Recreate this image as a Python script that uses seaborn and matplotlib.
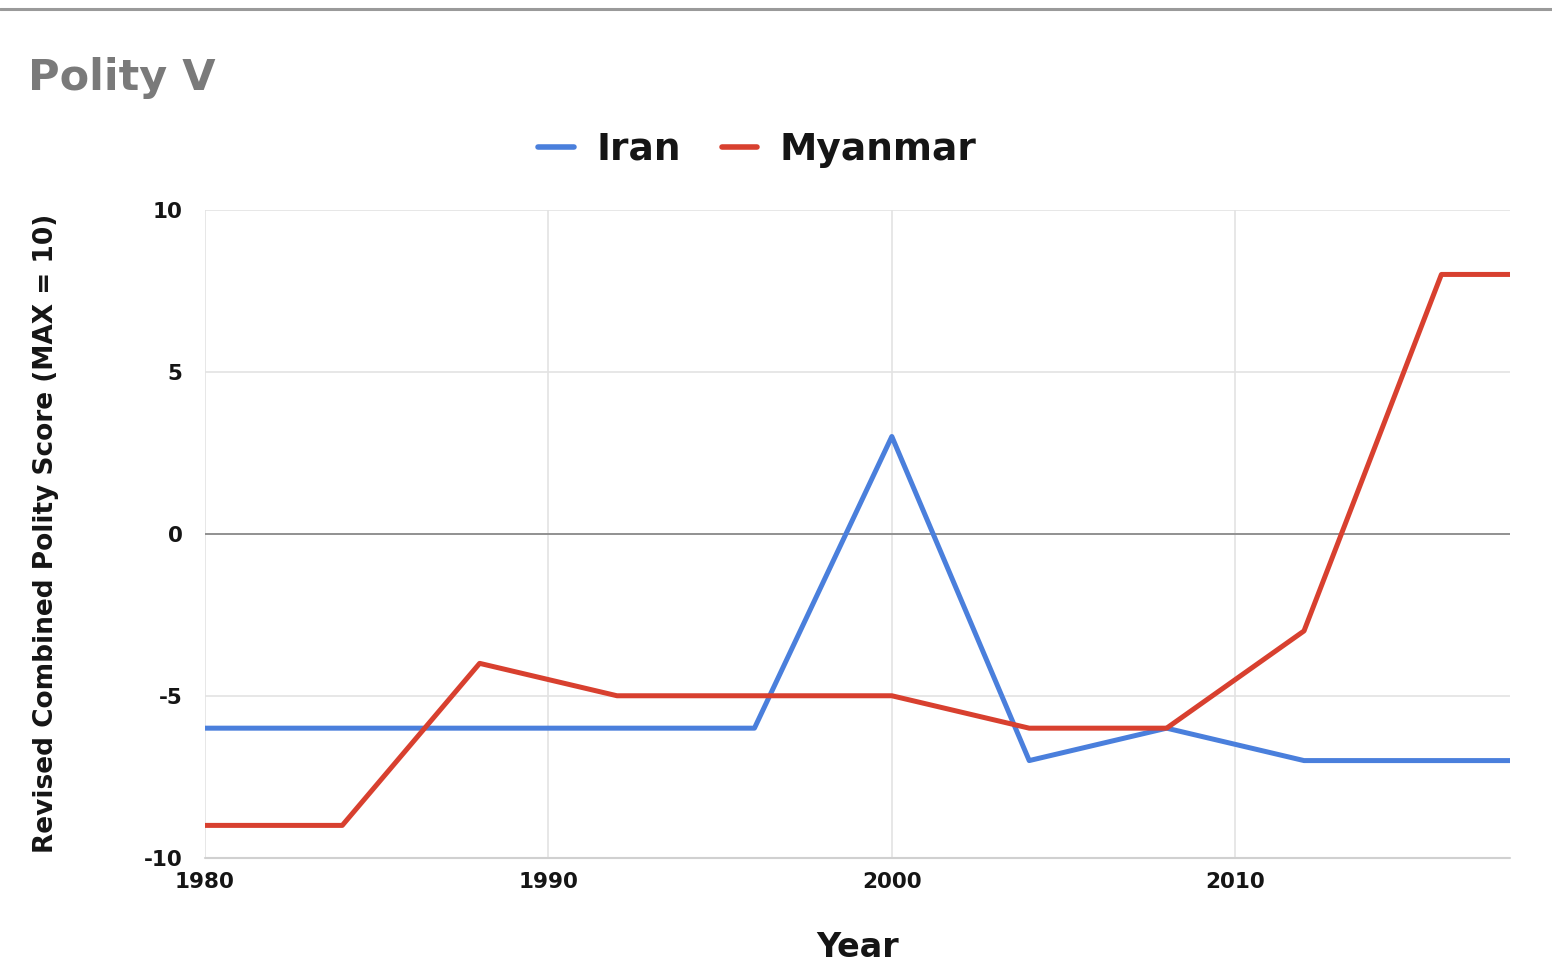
import matplotlib
matplotlib.use("Agg")
import matplotlib.pyplot as plt
import seaborn as sns
import pandas as pd
from matplotlib.lines import Line2D

years = [1980, 1984, 1988, 1992, 1996, 2000, 2004, 2008, 2012, 2016, 2018]
iran = [-6, -6, -6, -6, -6, 3, -7, -6, -7, -7, -7]
myanmar = [-9, -9, -4, -5, -5, -5, -6, -6, -3, 8, 8]
series_names = ["Iran", "Myanmar"]
colors = ["#4a7fdc", "#d8402f"]
xticks = [1980, 1990, 2000, 2010]
yticks = [-10, -5, 0, 5, 10]

df = pd.DataFrame({"Year": years * 2,
                   "Score": iran + myanmar,
                   "Country": [series_names[0]] * len(years) + [series_names[1]] * len(years)})

sns.set_theme(style="white")
plt.rcParams["font.family"] = ["DejaVu Sans"]
plt.rcParams["font.weight"] = "bold"
plt.rcParams["text.color"] = "#151515"
plt.rcParams["axes.labelcolor"] = "#151515"
plt.rcParams["xtick.color"] = "#151515"
plt.rcParams["ytick.color"] = "#151515"

fig = plt.figure(figsize=(15.52, 9.66), dpi=100)
ax = fig.add_axes([0.132, 0.112, 0.841, 0.671])

sns.lineplot(data=df, x="Year", y="Score", hue="Country", palette=colors,
             linewidth=3.6, ax=ax, legend=False, zorder=3)

ax.set_xlim(1980, 2018)
ax.set_ylim(-10, 10)
ax.set_xticks(xticks)
ax.set_yticks(yticks)
ax.set_xticklabels([str(t) for t in xticks], fontsize=15.5, fontweight="bold")
ax.set_yticklabels([str(t) for t in yticks], fontsize=15.5, fontweight="bold")
ax.tick_params(axis="both", length=0)
ax.tick_params(axis="y", pad=16)
ax.tick_params(axis="x", pad=10)
ax.grid(True, color="#e3e3e3", linewidth=1.2, zorder=0)
ax.axhline(0, color="#8a8a8a", linewidth=1.3, zorder=1)
for s in ax.spines.values():
    s.set_visible(False)
ax.axhline(-10, color="#d0d0d0", linewidth=1.5, zorder=1, clip_on=False)

ax.set_xlabel("Year", fontsize=24, fontweight="bold", labelpad=28)
ax.set_ylabel("Revised Combined Polity Score (MAX = 10)", fontsize=19,
              fontweight="bold", labelpad=61)

handles = [Line2D([0], [0], color=c, linewidth=4) for c in colors]
fig.legend(handles, series_names, loc="center", bbox_to_anchor=(0.488, 0.845),
           ncol=2, frameon=False, prop={"weight": "bold", "size": 27},
           handlelength=0.95, handletextpad=0.6, columnspacing=1.1)

fig.text(0.018, 0.919, "Polity V", fontsize=31, fontweight="bold",
         color="#7a7a7a", va="center", ha="left")

fig.add_artist(Line2D([0, 1], [0.991, 0.991], transform=fig.transFigure,
                      color="#9a9a9a", linewidth=2.2))

fig.savefig("out.png", dpi=100, facecolor="white")
